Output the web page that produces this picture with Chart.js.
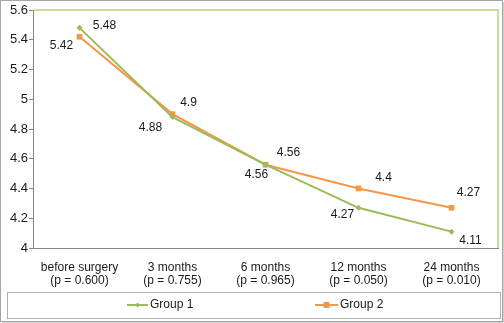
<!DOCTYPE html>
<html>
<head>
<meta charset="utf-8">
<script src="https://cdn.jsdelivr.net/npm/chart.js@4/dist/chart.umd.min.js"></script>
<style>
  html, body { margin: 0; padding: 0; background: #ffffff; }
  #wrap { width: 504px; height: 323px; }
</style>
</head>
<body>
<div id="wrap"><canvas id="scoreChart" width="504" height="323"></canvas></div>
<script>
// Follow-up scores per group
const categories = [
    ['before surgery', '(p = 0.600)'],
    ['3 months', '(p = 0.755)'],
    ['6 months', '(p = 0.965)'],
    ['12 months', '(p = 0.050)'],
    ['24 months', '(p = 0.010)']
];
const group1 = [5.48, 4.88, 4.56, 4.27, 4.11];
const group2 = [5.42, 4.9, 4.56, 4.4, 4.27];
const seriesNames = ['Group 1', 'Group 2'];

const GREEN = '#9BBB59';
const ORANGE = '#F79646';
const AXIS = '#868686';
const TEXT = '#1a1a1a';

// where each value label sits relative to its point (dx, dy)
const labelOffsets = [
    [[25, -2], [-22, 11], [-9, 10], [-16, 7], [19, 9]],
    [[-18, 9], [16, -11], [23, -12], [25, -11], [17, -15]]
];

const valueLabels = {
    id: 'valueLabels',
    afterDatasetsDraw(chart) {
        const ctx = chart.ctx;
        ctx.save();
        ctx.font = '12px "Liberation Sans", Arial, sans-serif';
        ctx.fillStyle = TEXT;
        ctx.textAlign = 'center';
        ctx.textBaseline = 'middle';
        chart.data.datasets.forEach((ds, di) => {
            const meta = chart.getDatasetMeta(di);
            meta.data.forEach((pt, i) => {
                const off = labelOffsets[di][i];
                ctx.fillText(String(ds.data[i]), pt.x + off[0], pt.y + off[1]);
            });
        });
        ctx.restore();
    }
};

// green top/right border, legend box and outer frame
const frame = {
    id: 'frame',
    afterDraw(chart) {
        const ctx = chart.ctx;
        const a = chart.chartArea;
        ctx.save();

        ctx.strokeStyle = '#B5D27E';
        ctx.lineWidth = 1.5;
        ctx.beginPath();
        ctx.moveTo(a.left, a.top);
        ctx.lineTo(a.right, a.top);
        ctx.lineTo(a.right, a.bottom);
        ctx.stroke();

        // outer frame with a soft shadow on right/bottom
        ctx.lineWidth = 1;
        ctx.strokeStyle = '#a6a6a6';
        ctx.strokeRect(0.5, 0.5, 502, 321);
        ctx.strokeStyle = '#d0d0d0';
        ctx.beginPath();
        ctx.moveTo(503.5, 2);
        ctx.lineTo(503.5, 323);
        ctx.moveTo(2, 322.5);
        ctx.lineTo(504, 322.5);
        ctx.stroke();

        // legend
        ctx.strokeStyle = '#b0b0b0';
        ctx.strokeRect(7.5, 292.5, 493, 26);
        const ly = 305;
        const items = [
            { x0: 127, x1: 148, color: GREEN, shape: 'diamond' },
            { x0: 315, x1: 338, color: ORANGE, shape: 'square' }
        ];
        ctx.font = '12px "Liberation Sans", Arial, sans-serif';
        ctx.textBaseline = 'middle';
        ctx.textAlign = 'left';
        items.forEach((it, i) => {
            ctx.strokeStyle = it.color;
            ctx.fillStyle = it.color;
            ctx.lineWidth = 2;
            ctx.beginPath();
            ctx.moveTo(it.x0, ly);
            ctx.lineTo(it.x1, ly);
            ctx.stroke();
            const mx = (it.x0 + it.x1) / 2;
            ctx.beginPath();
            if (it.shape === 'diamond') {
                ctx.moveTo(mx, ly - 2.5);
                ctx.lineTo(mx + 2.5, ly);
                ctx.lineTo(mx, ly + 2.5);
                ctx.lineTo(mx - 2.5, ly);
                ctx.closePath();
            } else {
                ctx.rect(mx - 3, ly - 3, 6, 6);
            }
            ctx.fill();
            ctx.fillStyle = TEXT;
            ctx.fillText(seriesNames[i], it.x1 + 2, ly);
        });
        ctx.restore();
    }
};

new Chart(document.getElementById('scoreChart'), {
    type: 'line',
    data: {
        labels: categories,
        datasets: [
            {
                label: seriesNames[0],
                data: group1,
                borderColor: GREEN,
                backgroundColor: GREEN,
                borderWidth: 2,
                pointStyle: 'rectRot',
                pointRadius: 3,
                pointBorderWidth: 0,
                tension: 0
            },
            {
                label: seriesNames[1],
                data: group2,
                borderColor: ORANGE,
                backgroundColor: ORANGE,
                borderWidth: 2,
                pointStyle: 'rect',
                pointRadius: 4,
                pointBorderWidth: 0,
                tension: 0
            }
        ]
    },
    options: {
        responsive: false,
        animation: false,
        devicePixelRatio: 1,
        layout: { padding: { left: 0, right: 6, top: 10, bottom: 31 } },
        plugins: {
            legend: { display: false },
            tooltip: { enabled: false }
        },
        scales: {
            x: {
                offset: true,
                grid: { display: false, offset: true },
                border: { display: true, color: AXIS, width: 1 },
                ticks: {
                    color: TEXT,
                    padding: 5,
                    maxRotation: 0,
                    font: { family: '"Liberation Sans", Arial, sans-serif', size: 12, lineHeight: 1.08 }
                },
                afterFit(scale) { scale.height = 44; }
            },
            y: {
                min: 4,
                max: 5.6,
                grid: {
                    drawOnChartArea: false,
                    drawTicks: true,
                    tickLength: 4,
                    color: AXIS
                },
                border: { display: true, color: AXIS, width: 1 },
                ticks: {
                    stepSize: 0.2,
                    color: TEXT,
                    padding: 1,
                    font: { family: '"Liberation Sans", Arial, sans-serif', size: 13 },
                    callback: (v) => String(Math.round(v * 10) / 10)
                },
                afterFit(scale) { scale.width = 33; }
            }
        }
    },
    plugins: [valueLabels, frame]
});
</script>
</body>
</html>
